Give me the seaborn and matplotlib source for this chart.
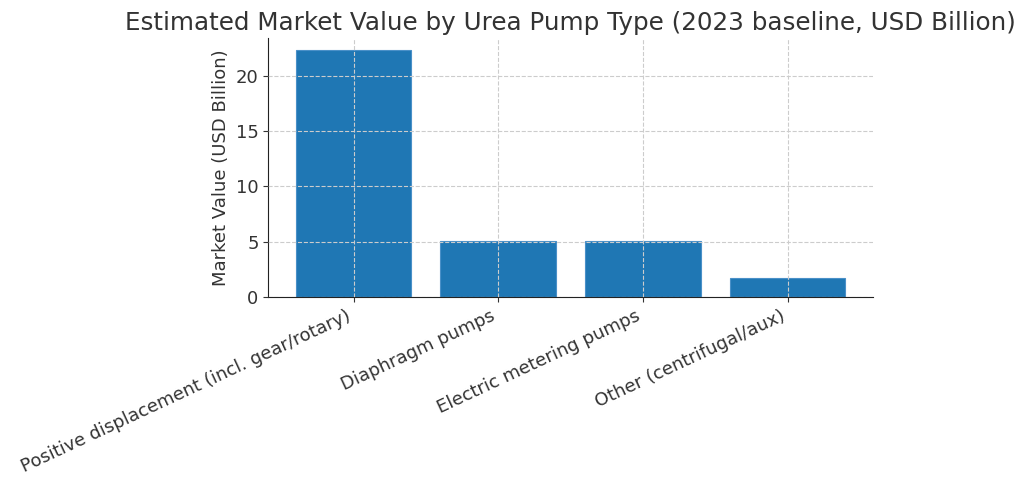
import pandas as pd
import matplotlib
matplotlib.use("Agg")
import matplotlib.pyplot as plt
import seaborn as sns

# data
pump_types = [
    "Positive displacement (incl. gear/rotary)",
    "Diaphragm pumps",
    "Electric metering pumps",
    "Other (centrifugal/aux)",
]
market_value = [22.3, 5.1, 5.1, 1.7]

df = pd.DataFrame({"type": pump_types, "value": market_value})

sns.set_style("ticks")
plt.rcParams["font.family"] = ["DejaVu Sans"]
text_color = "#333333"

fig = plt.figure(figsize=(10.24, 4.86), dpi=100)
ax = fig.add_axes([0.262, 0.389, 0.5905, 0.533])
sns.barplot(data=df, x="type", y="value", color="#1f77b4", saturation=1,
            width=0.8, ax=ax, zorder=1, edgecolor="#4a90c8", linewidth=0.8)
ax.set_xlim(-0.59, 3.59)
ax.grid(True, linestyle="--", linewidth=0.8, color="#cccccc", zorder=3)
ax.set_axisbelow(False)
sns.despine(ax=ax)
ax.spines["left"].set_color("#222222")
ax.spines["bottom"].set_color("#222222")

ax.set_title("Estimated Market Value by Urea Pump Type (2023 baseline, USD Billion)",
             fontsize=17.7, color=text_color)
ax.set_xlabel("")
ax.set_ylabel("Market Value (USD Billion)", fontsize=13, color=text_color)
ax.tick_params(axis="both", labelsize=13, colors=text_color)
plt.setp(ax.get_xticklabels(), rotation=25, ha="right")

fig.savefig("out.png", dpi=100)
